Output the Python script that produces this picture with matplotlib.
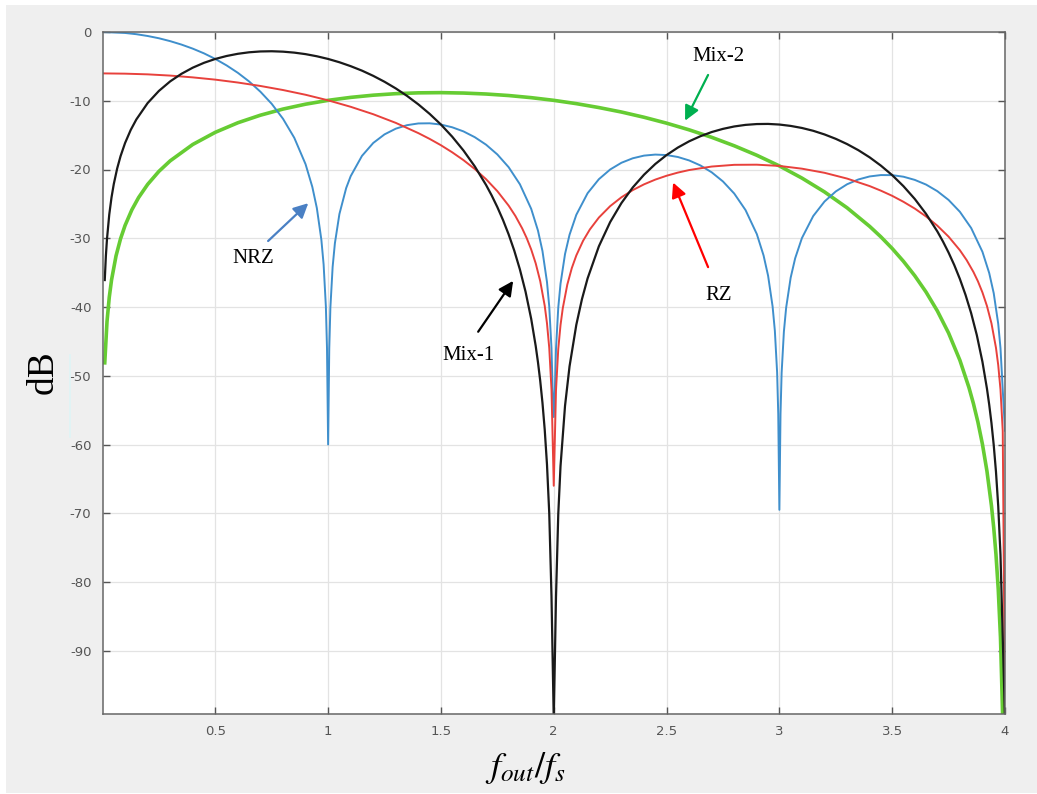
import matplotlib
matplotlib.use("Agg")
import matplotlib.pyplot as plt
from matplotlib.patches import Rectangle
from matplotlib.lines import Line2D

# frequency response of the DAC modes (dB)
nrz_x = [0, 0.1, 0.15, 0.2, 0.25, 0.3, 0.35, 0.4, 0.45, 0.5, 0.55, 0.6, 0.65, 0.7, 0.75, 0.8, 0.85,
         0.9, 0.93, 0.95, 0.97, 0.98, 0.99, 0.995, 1.0, 1.005, 1.01, 1.02, 1.03, 1.05, 1.08, 1.1, 1.15,
         1.2, 1.25, 1.3, 1.35, 1.4, 1.45, 1.5, 1.55, 1.6, 1.65, 1.7, 1.75, 1.8, 1.85, 1.9, 1.93, 1.95,
         1.97, 1.98, 1.99, 1.995, 2.0, 2.005, 2.01, 2.02, 2.03, 2.05, 2.07, 2.1, 2.15, 2.2, 2.25, 2.3,
         2.35, 2.4, 2.45, 2.5, 2.55, 2.6, 2.65, 2.7, 2.75, 2.8, 2.85, 2.9, 2.93, 2.95, 2.97, 2.98, 2.99,
         2.995, 3.0, 3.005, 3.01, 3.02, 3.03, 3.05, 3.07, 3.1, 3.15, 3.2, 3.25, 3.3, 3.35, 3.4, 3.45,
         3.5, 3.55, 3.6, 3.65, 3.7, 3.75, 3.8, 3.85, 3.9, 3.93, 3.95, 3.97, 3.98, 3.99, 4.0]
nrz_db = [0, -0.14, -0.32, -0.58, -0.91, -1.33, -1.83, -2.42, -3.11, -3.92, -4.86, -5.94, -7.20,
          -8.69, -10.45, -12.62, -15.39, -19.23, -22.54, -25.61, -30.21, -33.81, -39.91, -45.98, -60.0,
          -46.06, -40.09, -34.16, -30.73, -26.48, -22.70, -20.97, -18.02, -16.14, -14.89, -14.06, -13.55,
          -13.30, -13.28, -13.46, -13.86, -14.46, -15.30, -16.39, -17.81, -19.66, -22.15, -25.72, -28.88,
          -31.86, -36.36, -39.92, -45.98, -52.02, -56.0, -52.06, -46.07, -40.09, -36.62, -32.29, -29.49,
          -26.59, -23.45, -21.41, -20.00, -19.02, -18.37, -17.98, -17.83, -17.90, -18.18, -18.68, -19.41,
          -20.41, -21.74, -23.50, -25.90, -29.39, -32.51, -35.45, -39.93, -43.47, -49.52, -55.55, -69.5,
          -55.58, -49.57, -43.59, -40.10, -35.74, -32.91, -29.97, -26.77, -24.66, -23.19, -22.15, -21.45,
          -21.01, -20.81, -20.82, -21.05, -21.51, -22.19, -23.15, -24.43, -26.15, -28.51, -31.97, -35.06,
          -37.99, -42.45, -45.98, -52.02, -58.0]

rz_x = [0, 0.1, 0.2, 0.3, 0.4, 0.5, 0.6, 0.7, 0.8, 0.9, 1.0, 1.1, 1.2, 1.3, 1.4, 1.45, 1.5, 1.55, 1.6,
        1.65, 1.7, 1.75, 1.8, 1.83, 1.86, 1.88, 1.9, 1.92, 1.94, 1.96, 1.97, 1.98, 1.99, 2.0, 2.01, 2.02,
        2.03, 2.04, 2.06, 2.08, 2.1, 2.13, 2.16, 2.2, 2.25, 2.3, 2.35, 2.4, 2.45, 2.5, 2.55, 2.6, 2.7,
        2.8, 2.9, 3.0, 3.1, 3.2, 3.3, 3.4, 3.45, 3.5, 3.55, 3.6, 3.65, 3.7, 3.75, 3.8, 3.83, 3.86, 3.88,
        3.9, 3.92, 3.94, 3.96, 3.97, 3.98, 3.99, 4.0]
rz_db = [-6.02, -6.06, -6.16, -6.34, -6.60, -6.93, -7.35, -7.85, -8.44, -9.13, -9.94, -10.88, -11.96,
         -13.22, -14.71, -15.55, -16.47, -17.50, -18.64, -19.93, -21.41, -23.15, -25.25, -26.76, -28.56,
         -29.97, -31.63, -33.65, -36.23, -39.83, -42.37, -45.93, -52.0, -66.0, -52.08, -46.11, -42.63,
         -40.18, -36.75, -34.34, -32.50, -30.37, -28.72, -26.99, -25.33, -24.04, -23.00, -22.16, -21.47,
         -20.91, -20.45, -20.08, -19.57, -19.32, -19.30, -19.48, -19.88, -20.48, -21.32, -22.41, -23.08,
         -23.83, -24.70, -25.68, -26.83, -28.17, -29.77, -31.74, -33.18, -34.90, -36.26, -37.88, -39.85,
         -42.38, -45.94, -48.46, -52.0, -58.04, -100.0]

mix1_x = [0.01, 0.015, 0.02, 0.03, 0.04, 0.05, 0.065, 0.08, 0.1, 0.125, 0.15, 0.2, 0.25, 0.3, 0.35,
          0.4, 0.45, 0.5, 0.55, 0.6, 0.65, 0.7, 0.75, 0.8, 0.85, 0.9, 0.95, 1.0, 1.05, 1.1, 1.15, 1.2,
          1.25, 1.3, 1.35, 1.4, 1.45, 1.5, 1.55, 1.6, 1.65, 1.7, 1.725, 1.75, 1.775, 1.8, 1.825, 1.85,
          1.875, 1.9, 1.92, 1.93, 1.94, 1.95, 1.96, 1.97, 1.98, 1.99, 2.0, 2.01, 2.02, 2.03, 2.05, 2.07,
          2.1, 2.125, 2.15, 2.2, 2.25, 2.3, 2.35, 2.4, 2.45, 2.5, 2.55, 2.6, 2.65, 2.7, 2.75, 2.8, 2.85,
          2.9, 2.95, 3.0, 3.05, 3.1, 3.15, 3.2, 3.25, 3.3, 3.35, 3.4, 3.45, 3.5, 3.55, 3.6, 3.65, 3.7,
          3.725, 3.75, 3.775, 3.8, 3.825, 3.85, 3.875, 3.9, 3.92, 3.93, 3.94, 3.95, 3.96, 3.97, 3.98,
          3.99, 4.0]
mix1_db = [-36.08, -32.56, -30.06, -26.54, -24.05, -22.12, -19.85, -18.06, -16.15, -14.25, -12.72,
           -10.34, -8.57, -7.18, -6.08, -5.19, -4.48, -3.92, -3.49, -3.17, -2.95, -2.83, -2.80, -2.86,
           -3.00, -3.22, -3.53, -3.92, -4.40, -4.97, -5.62, -6.38, -7.24, -8.21, -9.30, -10.53, -11.91,
           -13.46, -15.23, -17.24, -19.55, -22.25, -23.78, -25.47, -27.34, -29.43, -31.80, -34.54,
           -37.77, -41.72, -45.67, -48.02, -50.73, -53.94, -57.85, -62.89, -69.97, -82.06, -100.0,
           -82.14, -70.15, -63.15, -54.37, -48.63, -42.59, -38.86, -35.84, -31.17, -27.65, -24.88,
           -22.62, -20.76, -19.20, -17.90, -16.81, -15.90, -15.16, -14.55, -14.09, -13.74, -13.51,
           -13.39, -13.37, -13.46, -13.66, -13.96, -14.37, -14.90, -15.54, -16.30, -17.19, -18.23,
           -19.44, -20.82, -22.43, -24.28, -26.45, -29.00, -30.47, -32.09, -33.89, -35.92, -38.23,
           -40.90, -44.08, -47.97, -51.87, -54.20, -56.88, -60.07, -63.96, -68.97, -76.04, -88.10, -100.0]

mix2_x = [0.01, 0.02, 0.03, 0.04, 0.06, 0.08, 0.1, 0.13, 0.16, 0.2, 0.25, 0.3, 0.4, 0.5, 0.6, 0.7,
          0.8, 0.9, 1.0, 1.1, 1.2, 1.3, 1.4, 1.5, 1.6, 1.7, 1.8, 1.9, 2.0, 2.1, 2.2, 2.3, 2.4, 2.5, 2.6,
          2.7, 2.8, 2.9, 3.0, 3.1, 3.2, 3.3, 3.4, 3.45, 3.5, 3.55, 3.6, 3.65, 3.7, 3.75, 3.8, 3.84,
          3.86, 3.88, 3.9, 3.92, 3.94, 3.95, 3.96, 3.97, 3.98, 3.99]
mix2_db = [-48.12, -42.10, -38.58, -36.08, -32.56, -30.07, -28.14, -25.87, -24.08, -22.17, -20.27,
           -18.74, -16.36, -14.59, -13.20, -12.10, -11.21, -10.50, -9.94, -9.51, -9.19, -8.97, -8.85,
           -8.82, -8.88, -9.02, -9.24, -9.55, -9.94, -10.42, -10.99, -11.64, -12.40, -13.26, -14.23,
           -15.32, -16.55, -17.93, -19.48, -21.25, -23.26, -25.57, -28.27, -29.80, -31.49, -33.36,
           -35.45, -37.82, -40.56, -43.79, -47.74, -51.69, -54.04, -56.75, -59.96, -63.87, -68.91,
           -72.10, -75.99, -81.01, -88.08, -100.0]

x_ticks = [0.5, 1, 1.5, 2, 2.5, 3, 3.5, 4]
x_tick_labels = ["0.5", "1", "1.5", "2", "2.5", "3", "3.5", "4"]
y_ticks = [0, -10, -20, -30, -40, -50, -60, -70, -80, -90]

plt.rcParams['mathtext.fontset'] = 'stix'
plt.rcParams['axes.unicode_minus'] = False
serif = ['Liberation Serif', 'DejaVu Serif']

W, H = 1037, 794
fig = plt.figure(figsize=(W / 100, H / 100), dpi=100, facecolor='white')
# grey backdrop with a thin white margin like the screenshot
fig.patches.append(Rectangle((6 / W, 1 / H), 1, 1 - 6 / H, transform=fig.transFigure,
                             facecolor='#efefef', edgecolor='none', zorder=-10))
fig.lines.append(Line2D([70 / W, 70 / W], [1 - 437 / H, 1 - 355 / H], transform=fig.transFigure,
                        color='#dff4f6', lw=1.2))

ax = fig.add_axes([102.5 / W, 1 - 714 / H, (1005 - 102.5) / W, (714 - 32) / H])
ax.set_facecolor('white')

ax.plot(mix2_x, mix2_db, color='#66cc33', lw=2.6)
ax.plot(nrz_x, nrz_db, color='#3f8fcc', lw=1.4)
ax.plot(rz_x, rz_db, color='#e8413c', lw=1.4)
ax.plot(mix1_x, mix1_db, color='#1a1a1a', lw=1.6)

ax.set_xlim(0, 4)
ax.set_ylim(-99.2, 0)
ax.set_xticks(x_ticks)
ax.set_xticklabels(x_tick_labels)
ax.set_yticks(y_ticks)
ax.grid(True, color='#e3e3e3', lw=0.9)
ax.tick_params(direction='in', length=5, width=1, color='#555555', labelcolor='#555555',
               labelsize=9.5, top=True, right=True, pad=8)
for s in ax.spines.values():
    s.set_color('#666666')
    s.set_linewidth(1.1)

# labels with arrows
labels = [("NRZ", 0.667, -33.0, 0.734, -30.4, 0.912, -24.9, '#4a80c4'),
          ("Mix-1", 1.620, -47.1, 1.665, -43.6, 1.820, -36.2, 'black'),
          ("Mix-2", 2.729, -3.5, 2.684, -6.25, 2.582, -12.9, '#00b050'),
          ("RZ", 2.729, -38.4, 2.684, -34.2, 2.529, -21.9, '#ff0000')]
for name, tx, ty, x0, y0, x1, y1, c in labels:
    ax.text(tx, ty, name, family=serif, fontsize=15, ha='center', va='center')
    ax.annotate('', xy=(x1, y1), xytext=(x0, y0),
                arrowprops=dict(arrowstyle='-|>', color=c, lw=1.6, mutation_scale=22,
                                shrinkA=0, shrinkB=0))

fig.text(43 / W, 1 - 372 / H, 'dB', family=serif, fontsize=27, rotation=90,
         ha='center', va='center')
fig.text(525 / W, 1 - 768 / H, r'$f_{out}/f_s$', fontsize=26, ha='center', va='center')

fig.savefig('out.png', dpi=100, facecolor=fig.get_facecolor())
